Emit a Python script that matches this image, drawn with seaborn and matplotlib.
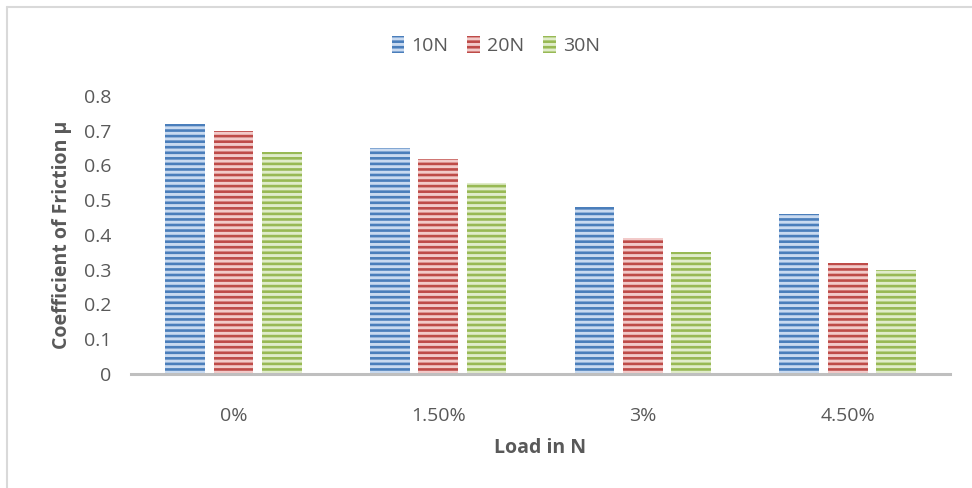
import matplotlib
matplotlib.use("Agg")
import matplotlib.pyplot as plt
from matplotlib.patches import Patch
from matplotlib.lines import Line2D
import seaborn as sns
import pandas as pd

# Additive content (x categories) and loads (hue)
contents = ["0%", "1.50%", "3%", "4.50%"]
loads = ["10N", "20N", "30N"]

mu_10n = [0.72, 0.65, 0.48, 0.46]
mu_20n = [0.70, 0.62, 0.39, 0.32]
mu_30n = [0.64, 0.55, 0.35, 0.30]

yticks = [0, 0.1, 0.2, 0.3, 0.4, 0.5, 0.6, 0.7, 0.8]
ytick_labels = ["0", "0.1", "0.2", "0.3", "0.4", "0.5", "0.6", "0.7", "0.8"]

stripe_colors = ["#4a7ebb", "#be4b48", "#98b954"]
fill_colors = ["#c9daf0", "#f2cac9", "#e0ecca"]

rows = []
for load, vals in zip(loads, [mu_10n, mu_20n, mu_30n]):
    for c, v in zip(contents, vals):
        rows.append({"content": c, "load": load, "mu": v})
df = pd.DataFrame(rows)

sns.set_theme(style="white")
plt.rcParams["font.family"] = ["Open Sans", "DejaVu Sans"]
plt.rcParams["hatch.linewidth"] = 1.9

text_color = "#595959"
fs = 14

fig = plt.figure(figsize=(9.72, 4.88), dpi=100)
ax = fig.add_axes([0.1348, 0.2336, 0.8426, 0.5697])

sns.barplot(data=df, x="content", y="mu", hue="load", order=contents,
            hue_order=loads, palette=fill_colors, width=0.71, gap=0.18,
            legend=False, ax=ax, saturation=1)

for container, sc, fc in zip(ax.containers, stripe_colors, fill_colors):
    for bar in container:
        bar.set_facecolor(fc)
        bar.set_edgecolor(sc)
        bar.set_hatch("---")
        bar.set_linewidth(0)

ax.set_ylim(0, 0.8)
ax.set_xlim(-0.5, 3.5)
ax.set_yticks(yticks)
ax.set_yticklabels(ytick_labels)
ax.tick_params(axis="y", length=0, pad=14, labelsize=fs, labelcolor=text_color)
ax.tick_params(axis="x", length=0, pad=24, labelsize=fs, labelcolor=text_color)

for s in ["top", "right", "left"]:
    ax.spines[s].set_visible(False)
ax.spines["bottom"].set_color("#bfbfbf")
ax.spines["bottom"].set_linewidth(2.2)
ax.grid(False)

ax.set_xlabel("Load in N", fontsize=fs, fontweight="bold", color=text_color, labelpad=9)
ax.set_ylabel("Coefficient of Friction μ", fontsize=fs, fontweight="bold",
              color=text_color, labelpad=9)

handles = [Patch(facecolor=fc, edgecolor=sc, hatch="---", linewidth=0)
           for sc, fc in zip(stripe_colors, fill_colors)]
leg = fig.legend(handles, loads, loc="center", bbox_to_anchor=(0.51, 0.906),
                 ncol=3, frameon=False, fontsize=fs, handlelength=0.65,
                 handleheight=0.9, handletextpad=0.35, columnspacing=1.0)
for t in leg.get_texts():
    t.set_color(text_color)

# Light chart-area border on the left and top
fig.add_artist(Line2D([0.0075, 0.0075], [0, 0.986], transform=fig.transFigure,
                      color="#d9d9d9", linewidth=1.5))
fig.add_artist(Line2D([0.0075, 1.0], [0.986, 0.986], transform=fig.transFigure,
                      color="#d9d9d9", linewidth=1.5))

fig.savefig("out.png", dpi=100)
